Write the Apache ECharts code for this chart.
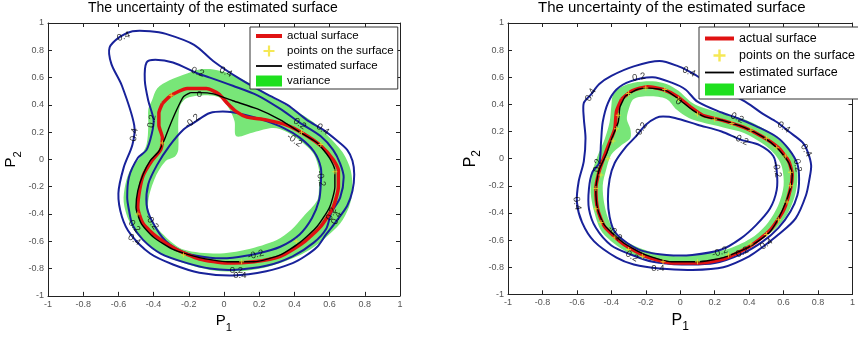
<!DOCTYPE html>
<html><head><meta charset="utf-8">
<script src="https://cdn.jsdelivr.net/npm/echarts@6/dist/echarts.min.js"></script>
<style>html,body{margin:0;padding:0;background:#fff}#c{width:858px;height:338px}</style>
</head><body><div id="c"></div>
<script>
const titleText = 'The uncertainty of the estimated surface';
const legendNames = ['actual surface', 'points on the surface', 'estimated surface', 'variance'];
const axisMin = -1, axisMax = 1, axisStep = 0.2;

// ---------- left plot ----------
const leftContour04 = [[-0.65,0.82],[-0.59,0.90],[-0.52,0.94],[-0.42,0.94],[-0.33,0.92],[-0.17,0.84],[-0.06,0.72],[0.09,0.59],[0.24,0.48],[0.36,0.40],[0.47,0.29],[0.56,0.22],[0.64,0.14],[0.70,0.07],[0.73,-0.01],[0.74,-0.11],[0.73,-0.23],[0.70,-0.34],[0.64,-0.45],[0.58,-0.55],[0.53,-0.64],[0.46,-0.71],[0.39,-0.76],[0.24,-0.82],[0.05,-0.85],[-0.14,-0.83],[-0.29,-0.77],[-0.42,-0.69],[-0.53,-0.55],[-0.58,-0.42],[-0.60,-0.25],[-0.57,-0.06],[-0.52,0.11],[-0.51,0.25],[-0.58,0.54],[-0.64,0.70]];
const leftContour02 = [[-0.44,0.71],[-0.39,0.73],[-0.29,0.71],[-0.15,0.63],[-0.08,0.60],[0.05,0.54],[0.19,0.47],[0.32,0.37],[0.43,0.27],[0.55,0.17],[0.62,0.07],[0.66,-0.03],[0.68,-0.13],[0.66,-0.28],[0.61,-0.39],[0.58,-0.51],[0.51,-0.61],[0.39,-0.71],[0.24,-0.78],[0.05,-0.81],[-0.08,-0.80],[-0.21,-0.76],[-0.36,-0.69],[-0.46,-0.59],[-0.52,-0.48],[-0.54,-0.37],[-0.55,-0.28],[-0.54,-0.13],[-0.49,0.01],[-0.44,0.07],[-0.41,0.19],[-0.40,0.29],[-0.43,0.43],[-0.45,0.58]];
const leftContourM02 = [[-0.38,-0.04],[-0.31,0.10],[-0.23,0.22],[-0.17,0.27],[-0.08,0.34],[0.02,0.35],[0.11,0.33],[0.22,0.29],[0.34,0.23],[0.43,0.16],[0.51,0.06],[0.55,-0.06],[0.55,-0.18],[0.54,-0.30],[0.50,-0.43],[0.43,-0.55],[0.32,-0.64],[0.19,-0.69],[0.05,-0.72],[-0.08,-0.72],[-0.21,-0.69],[-0.33,-0.60],[-0.41,-0.45],[-0.44,-0.33],[-0.43,-0.18]];
const leftEstimated = [[-0.19,0.49],[-0.14,0.49],[-0.06,0.48],[0.05,0.43],[0.19,0.37],[0.32,0.29],[0.43,0.20],[0.53,0.12],[0.60,0.01],[0.63,-0.08],[0.63,-0.20],[0.60,-0.35],[0.53,-0.49],[0.43,-0.61],[0.32,-0.70],[0.17,-0.75],[0.02,-0.75],[-0.14,-0.72],[-0.29,-0.66],[-0.40,-0.57],[-0.47,-0.47],[-0.50,-0.35],[-0.49,-0.23],[-0.46,-0.11],[-0.42,-0.01],[-0.37,0.06],[-0.34,0.14],[-0.31,0.24],[-0.27,0.36],[-0.23,0.46]];
const leftActual = [[-0.35,0.41],[-0.30,0.47],[-0.21,0.52],[-0.10,0.52],[-0.03,0.48],[0.02,0.41],[0.07,0.35],[0.13,0.31],[0.24,0.29],[0.36,0.25],[0.45,0.19],[0.55,0.10],[0.62,0.00],[0.65,-0.08],[0.65,-0.20],[0.62,-0.35],[0.55,-0.49],[0.45,-0.61],[0.32,-0.71],[0.17,-0.75],[0.02,-0.76],[-0.14,-0.73],[-0.27,-0.66],[-0.38,-0.57],[-0.46,-0.47],[-0.49,-0.35],[-0.48,-0.23],[-0.46,-0.12],[-0.41,-0.01],[-0.36,0.07],[-0.35,0.16],[-0.37,0.25],[-0.37,0.34]];
const leftPoints = [[-0.30,0.47],[-0.35,0.12],[-0.49,-0.40],[-0.23,-0.70],[0.10,-0.75],[0.41,-0.60],[0.63,-0.09],[0.55,0.11],[0.44,0.20]];
const leftVarOuter = [[-0.41,0.43],[-0.38,0.52],[-0.31,0.58],[-0.21,0.63],[-0.14,0.66],[-0.06,0.66],[0.03,0.63],[0.13,0.57],[0.28,0.45],[0.39,0.37],[0.51,0.27],[0.60,0.16],[0.68,0.04],[0.72,-0.08],[0.73,-0.23],[0.71,-0.35],[0.66,-0.47],[0.58,-0.57],[0.49,-0.66],[0.38,-0.73],[0.24,-0.79],[0.09,-0.82],[-0.08,-0.81],[-0.23,-0.76],[-0.36,-0.69],[-0.48,-0.57],[-0.54,-0.45],[-0.57,-0.31],[-0.56,-0.18],[-0.53,-0.07],[-0.48,0.01],[-0.44,0.11],[-0.43,0.25],[-0.43,0.37]];
const leftVarInner = [[-0.21,0.45],[-0.10,0.47],[-0.02,0.45],[0.03,0.37],[0.06,0.28],[0.07,0.17],[0.17,0.20],[0.28,0.23],[0.36,0.20],[0.44,0.13],[0.51,0.04],[0.54,-0.08],[0.54,-0.20],[0.53,-0.30],[0.45,-0.42],[0.38,-0.52],[0.30,-0.59],[0.13,-0.66],[-0.04,-0.69],[-0.23,-0.66],[-0.33,-0.57],[-0.42,-0.43],[-0.43,-0.30],[-0.39,-0.13],[-0.33,-0.01],[-0.28,0.02],[-0.26,0.07],[-0.26,0.27],[-0.25,0.39]];
// [x, y, text, angle]
const leftContourLabels = [[-0.57,0.90,'0.4',20],[0.01,0.64,'0.4',-25],[-0.15,0.64,'0.2',-20],[-0.14,0.48,'0',0],[-0.41,0.28,'0.2',80],[-0.51,0.18,'0.4',80],[-0.18,0.28,'-0.2',40],[0.43,0.26,'0.2',-35],[0.56,0.22,'0.4',-35],[0.40,0.14,'-0.2',-35],[0.55,-0.14,'-0.2',-80],[0.61,-0.40,'0.2',65],[0.64,-0.43,'0.4',65],[-0.41,-0.46,'-0.2',-55],[-0.51,-0.49,'0.2',-50],[-0.51,-0.59,'0.4',-35],[0.18,-0.70,'-0.2',15],[0.07,-0.81,'0.2',0],[0.09,-0.85,'0.4',0]];

// ---------- right plot ----------
const rightContour04 = [[-0.56,0.41],[-0.52,0.47],[-0.47,0.55],[-0.40,0.61],[-0.27,0.68],[-0.12,0.72],[-0.01,0.68],[0.07,0.63],[0.16,0.56],[0.27,0.49],[0.39,0.41],[0.48,0.33],[0.56,0.27],[0.63,0.20],[0.71,0.12],[0.74,0.05],[0.76,-0.05],[0.75,-0.15],[0.73,-0.27],[0.67,-0.44],[0.57,-0.56],[0.49,-0.64],[0.40,-0.72],[0.25,-0.80],[0.07,-0.82],[-0.12,-0.81],[-0.27,-0.78],[-0.37,-0.73],[-0.50,-0.61],[-0.57,-0.47],[-0.60,-0.32],[-0.59,-0.17],[-0.56,-0.02],[-0.55,0.15],[-0.56,0.30]];
const rightContour02 = [[-0.47,-0.03],[-0.46,0.12],[-0.45,0.27],[-0.42,0.41],[-0.37,0.51],[-0.29,0.57],[-0.16,0.60],[-0.05,0.56],[0.03,0.51],[0.10,0.42],[0.24,0.34],[0.33,0.30],[0.44,0.24],[0.56,0.16],[0.63,0.07],[0.68,-0.04],[0.69,-0.15],[0.68,-0.27],[0.64,-0.39],[0.57,-0.51],[0.48,-0.61],[0.36,-0.70],[0.20,-0.77],[0.01,-0.78],[-0.16,-0.76],[-0.28,-0.71],[-0.40,-0.64],[-0.49,-0.51],[-0.53,-0.37],[-0.53,-0.22],[-0.51,-0.10]];
const rightContourM02 = [[-0.10,0.31],[-0.03,0.30],[0.10,0.25],[0.24,0.20],[0.35,0.14],[0.46,0.10],[0.54,0.02],[0.56,-0.09],[0.56,-0.23],[0.52,-0.37],[0.44,-0.49],[0.35,-0.59],[0.24,-0.67],[0.07,-0.71],[-0.08,-0.71],[-0.22,-0.68],[-0.31,-0.62],[-0.38,-0.54],[-0.41,-0.43],[-0.42,-0.30],[-0.41,-0.15],[-0.38,-0.03],[-0.32,0.08],[-0.26,0.16],[-0.20,0.25],[-0.14,0.30]];
const rightEstimated = [[-0.32,0.46],[-0.25,0.51],[-0.18,0.52],[-0.08,0.50],[-0.01,0.44],[0.07,0.36],[0.14,0.31],[0.25,0.28],[0.37,0.23],[0.48,0.16],[0.57,0.07],[0.63,-0.03],[0.65,-0.12],[0.64,-0.22],[0.59,-0.39],[0.52,-0.54],[0.40,-0.65],[0.25,-0.73],[0.10,-0.76],[-0.05,-0.76],[-0.20,-0.71],[-0.33,-0.62],[-0.44,-0.49],[-0.48,-0.37],[-0.49,-0.22],[-0.47,-0.08],[-0.43,0.03],[-0.40,0.14],[-0.36,0.27],[-0.35,0.38]];
const rightActual = [[-0.34,0.44],[-0.28,0.50],[-0.19,0.53],[-0.10,0.51],[-0.02,0.46],[0.06,0.38],[0.13,0.32],[0.25,0.28],[0.37,0.23],[0.48,0.16],[0.57,0.08],[0.63,-0.02],[0.65,-0.12],[0.64,-0.22],[0.60,-0.38],[0.52,-0.53],[0.40,-0.65],[0.25,-0.74],[0.10,-0.77],[-0.05,-0.77],[-0.20,-0.72],[-0.33,-0.63],[-0.44,-0.50],[-0.48,-0.37],[-0.49,-0.22],[-0.47,-0.09],[-0.44,0.02],[-0.41,0.12],[-0.38,0.22],[-0.37,0.35]];
const rightPoints = [[-0.36,0.32],[-0.30,0.48],[-0.20,0.52],[-0.09,0.51],[-0.01,0.44],[0.10,0.33],[0.20,0.29],[0.30,0.26],[0.41,0.21],[0.50,0.15],[0.56,0.08],[0.61,0.02],[0.64,-0.10],[0.64,-0.20],[0.62,-0.32],[0.57,-0.45],[0.50,-0.56],[0.41,-0.63],[0.28,-0.71],[0.10,-0.76],[-0.10,-0.76],[-0.22,-0.72],[-0.30,-0.67],[-0.38,-0.58],[-0.46,-0.47],[-0.49,-0.37],[-0.49,-0.22],[-0.46,-0.12],[-0.42,0.00],[-0.39,0.13],[-0.37,0.22]];
const rightVarOuter = [[-0.40,0.39],[-0.39,0.47],[-0.34,0.53],[-0.27,0.56],[-0.16,0.57],[-0.08,0.55],[-0.01,0.50],[0.06,0.42],[0.12,0.38],[0.25,0.33],[0.37,0.29],[0.50,0.21],[0.59,0.12],[0.65,0.03],[0.68,-0.10],[0.67,-0.25],[0.63,-0.39],[0.56,-0.51],[0.44,-0.62],[0.33,-0.70],[0.18,-0.75],[0.01,-0.78],[-0.16,-0.75],[-0.29,-0.70],[-0.39,-0.62],[-0.46,-0.53],[-0.50,-0.39],[-0.52,-0.25],[-0.51,-0.10],[-0.48,0.02],[-0.44,0.14],[-0.41,0.27]];
const rightVarInner = [[-0.30,0.36],[-0.27,0.44],[-0.18,0.46],[-0.08,0.44],[-0.02,0.36],[0.05,0.30],[0.12,0.27],[0.25,0.23],[0.37,0.19],[0.48,0.11],[0.55,0.03],[0.59,-0.06],[0.60,-0.20],[0.57,-0.34],[0.51,-0.47],[0.42,-0.58],[0.29,-0.66],[0.14,-0.70],[-0.01,-0.72],[-0.16,-0.69],[-0.27,-0.64],[-0.36,-0.57],[-0.41,-0.47],[-0.44,-0.34],[-0.45,-0.20],[-0.43,-0.08],[-0.40,0.03],[-0.34,0.10],[-0.29,0.15],[-0.29,0.22],[-0.31,0.29]];
const rightContourLabels = [[0.05,0.64,'0.4',-25],[-0.24,0.60,'0.2',10],[-0.52,0.47,'0.4',60],[-0.01,0.42,'0',-40],[-0.23,0.21,'-0.2',55],[0.33,0.30,'0.2',-25],[0.35,0.14,'-0.2',-25],[0.60,0.23,'0.4',-35],[0.73,0.06,'0.4',-60],[0.68,-0.05,'0.2',-80],[0.56,-0.08,'-0.2',-80],[-0.48,-0.05,'0.2',80],[-0.60,-0.33,'0.4',-80],[-0.38,-0.55,'-0.2',-50],[-0.28,-0.72,'0.2',-30],[-0.13,-0.81,'0.4',0],[0.23,-0.69,'-0.2',20],[0.36,-0.69,'0.2',25],[0.50,-0.63,'0.4',35]];

const BLUE = '#18229a', RED = '#e01212', BLACK = '#000', STAR = '#f2e22a', GREEN = '#78e678', GREEN_LEG = '#1fe01f';
const FONT = 'Liberation Sans, Arial, sans-serif';

function polySeries(name, pts, fill, stroke, width, ai, z) {
  return {
    type: 'custom', name: name, xAxisIndex: ai, yAxisIndex: ai, data: pts, z: z, silent: true, clip: true,
    encode: {x: 0, y: 1}, itemStyle: {color: fill || stroke},
    renderItem: function (params, api) {
      if (params.dataIndex !== 0) return {type: 'group', children: []};
      return {type: 'polygon', shape: {points: pts.map(function (p) { return api.coord(p); }), smooth: 0.3},
        style: {fill: fill || 'none', stroke: stroke || 'none', lineWidth: width || 0}};
    }
  };
}
function lineSeries(name, pts, color, width, ai, z) {
  return {type: 'line', name: name, xAxisIndex: ai, yAxisIndex: ai, data: pts.concat([pts[0]]), symbol: 'none', showSymbol: false,
    smooth: 0.2, lineStyle: {color: color, width: width}, itemStyle: {color: color}, z: z, silent: true, clip: true};
}
function starSeries(pts, ai, size) {
  return {type: 'scatter', name: legendNames[1], xAxisIndex: ai, yAxisIndex: ai, data: pts, z: 8, silent: true,
    symbol: 'path://M4,0h2v4h4v2h-4v4h-2v-4h-4v-2h4z', symbolSize: size, itemStyle: {color: STAR}};
}
function labelSeries(labels, ai) {
  return {type: 'scatter', xAxisIndex: ai, yAxisIndex: ai, symbolSize: 0, silent: true, z: 9,
    data: labels.map(function (l) { return {value: [l[0], l[1]], name: l[2], label: {rotate: l[3]}}; }),
    label: {show: true, position: 'inside', formatter: '{b}', fontSize: 9.5, color: '#000', fontFamily: FONT}};
}
function plotSeries(ai, d) {
  return [
    polySeries(legendNames[3], d.varOuter, GREEN, null, 0, ai, 1),
    polySeries('inner', d.varInner, '#ffffff', null, 0, ai, 2),
    polySeries('c04', d.c04, null, BLUE, 2, ai, 3),
    polySeries('c02', d.c02, null, BLUE, 2, ai, 3),
    polySeries('cm02', d.cm02, null, BLUE, 2, ai, 3),
    lineSeries(legendNames[0], d.actual, RED, d.redW, ai, 5),
    lineSeries(legendNames[2], d.estimated, BLACK, 1.4, ai, 6),
    starSeries(d.points, ai, d.starSize),
    labelSeries(d.labels, ai)
  ];
}
function pName(letter) { return '{p|P}{s|' + letter + '}'; }
function makeX(gi, top, fs, gap) {
  const base = {gridIndex: gi, type: 'value', min: axisMin, max: axisMax, interval: axisStep,
    axisLine: {onZero: false, lineStyle: {color: '#222', width: 1}},
    axisTick: {inside: true, length: 4, lineStyle: {color: '#222'}}, splitLine: {show: false}};
  if (top) return Object.assign(base, {position: 'top', axisLabel: {show: false}});
  return Object.assign(base, {position: 'bottom',
    axisLabel: {fontSize: 9, color: '#555', margin: 4, showMinLabel: true, showMaxLabel: true, fontFamily: FONT},
    name: pName('1'), nameLocation: 'middle', nameGap: gap,
    nameTextStyle: {rich: {p: {fontSize: fs, color: '#000', verticalAlign: 'top', fontFamily: FONT},
      s: {fontSize: fs * 0.75, color: '#000', verticalAlign: 'bottom', padding: [fs * 0.55, 0, 0, 0], fontFamily: FONT}}}});
}
function makeY(gi, right, fs, gap) {
  const base = {gridIndex: gi, type: 'value', min: axisMin, max: axisMax, interval: axisStep,
    axisLine: {onZero: false, lineStyle: {color: '#222', width: 1}},
    axisTick: {inside: true, length: 4, lineStyle: {color: '#222'}}, splitLine: {show: false}};
  if (right) return Object.assign(base, {position: 'right', axisLabel: {show: false}});
  return Object.assign(base, {position: 'left',
    axisLabel: {fontSize: 9, color: '#555', margin: 4, showMinLabel: true, showMaxLabel: true, fontFamily: FONT},
    name: pName('2'), nameLocation: 'middle', nameGap: gap,
    nameTextStyle: {rich: {p: {fontSize: fs, color: '#000', verticalAlign: 'top', fontFamily: FONT},
      s: {fontSize: fs * 0.75, color: '#000', verticalAlign: 'bottom', padding: [fs * 0.55, 0, 0, 0], fontFamily: FONT}}}});
}
function legendData(redW) {
  return [
    {name: legendNames[0], lineStyle: {width: redW, color: RED}, itemStyle: {opacity: 0}},
    {name: legendNames[1]},
    {name: legendNames[2], lineStyle: {width: 1.8, color: BLACK}, itemStyle: {opacity: 0}},
    {name: legendNames[3], icon: 'rect', itemStyle: {color: GREEN_LEG}}
  ];
}
function makeLegend(left, top, fs, iw, ih, gap, pad) {
  return {left: left, top: top, orient: 'vertical', itemGap: gap, itemWidth: iw, itemHeight: ih, padding: pad,
    backgroundColor: '#fff', borderColor: '#333', borderWidth: 1, borderRadius: 0, selectedMode: false, z: 20,
    textStyle: {fontSize: fs, color: '#000', fontFamily: FONT}, data: legendData(4)};
}

const chart = echarts.init(document.getElementById('c'), null, {renderer: 'canvas'});
chart.setOption({
  animation: false,
  backgroundColor: '#fff',
  textStyle: {fontFamily: FONT},
  title: [
    {text: titleText, left: 88, top: 1, padding: 0, textStyle: {fontSize: 14, fontWeight: 'normal', color: '#000', fontFamily: FONT}},
    {text: titleText, left: 538, top: 0, padding: 0, textStyle: {fontSize: 15, fontWeight: 'normal', color: '#000', fontFamily: FONT}}
  ],
  grid: [
    {left: 48, top: 23, width: 352, height: 277},
    {left: 508, top: 23, width: 354, height: 274}
  ],
  xAxis: [makeX(0, false, 15, 11), makeX(0, true), makeX(1, false, 16, 11), makeX(1, true)],
  yAxis: [makeY(0, false, 15, 25), makeY(0, true), makeY(1, false, 16, 25), makeY(1, true)],
  legend: [makeLegend(250, 27, 11.5, 26, 11, 3, [3, 4, 2, 4]), makeLegend(699, 27, 12.5, 29, 12, 4, [5, 4, 3, 4])],
  series: [].concat(
    plotSeries(0, {varOuter: leftVarOuter, varInner: leftVarInner, c04: leftContour04, c02: leftContour02, cm02: leftContourM02,
      actual: leftActual, estimated: leftEstimated, points: leftPoints, labels: leftContourLabels, redW: 3.5, starSize: 5}),
    plotSeries(2, {varOuter: rightVarOuter, varInner: rightVarInner, c04: rightContour04, c02: rightContour02, cm02: rightContourM02,
      actual: rightActual, estimated: rightEstimated, points: rightPoints, labels: rightContourLabels, redW: 3.5, starSize: 5})
  )
});
</script></body></html>
